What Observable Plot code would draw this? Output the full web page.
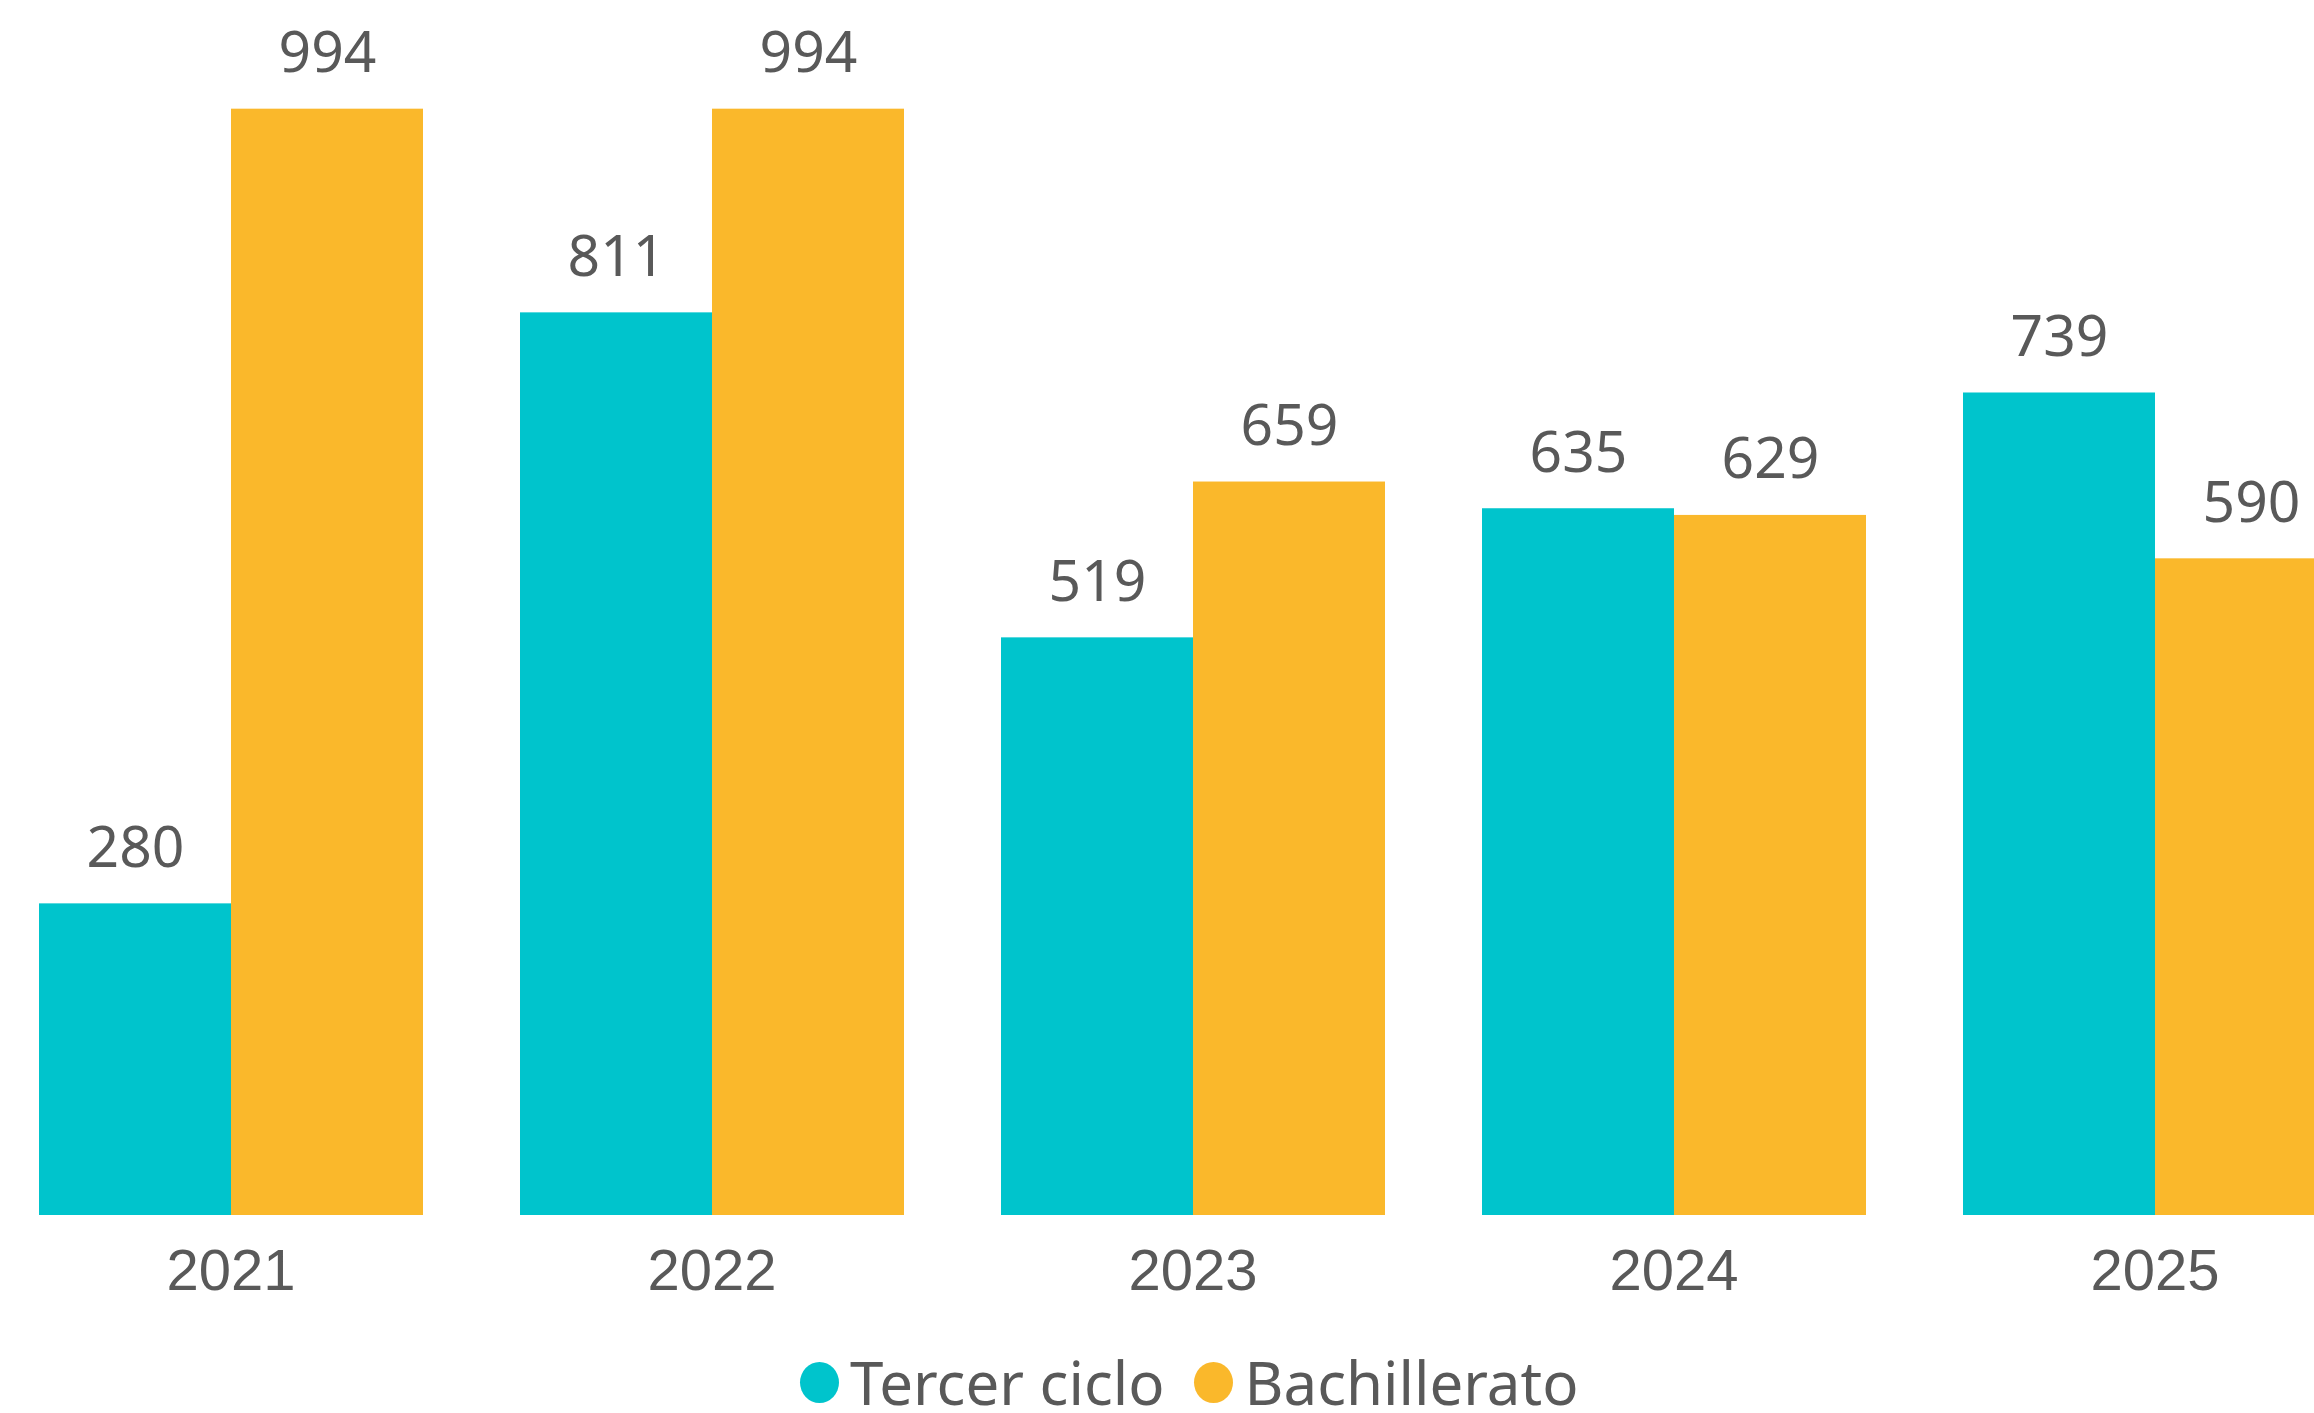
<!DOCTYPE html>
<html><head><meta charset="utf-8">
<script src="https://cdn.jsdelivr.net/npm/d3@7"></script>
<script src="https://cdn.jsdelivr.net/npm/@observablehq/plot@0.6"></script>
<style>
html,body{margin:0;padding:0;background:#fff;overflow:hidden;width:2314px;height:1413px}
#legend{display:flex;align-items:flex-start;height:93px;box-sizing:border-box;padding-top:32px;padding-left:800px;font-family:"Noto Sans";font-size:60px;line-height:1;color:#595959}
.item{display:flex;align-items:center;margin-right:30px;height:60px}
.dot{width:39px;height:41px;border-radius:50%;margin-right:11px}
</style></head><body><div id="chart"></div><div id="legend"></div>
<script>
const years = ["2021","2022","2023","2024","2025"];
const series = ["Tercer ciclo","Bachillerato"];
const tercerCiclo = [280,811,519,635,739];
const bachillerato = [994,994,659,629,590];
const colors = ["#00C4CC","#FAB82B"];

const data = years.flatMap((y,i)=>[
  {year:y, serie:series[0], value:tercerCiclo[i]},
  {year:y, serie:series[1], value:bachillerato[i]}
]);

const plot = Plot.plot({
  width:2314, height:1320, marginTop:102, marginBottom:105, marginLeft:0, marginRight:0,
  style:{color:"#595959", background:"#fff"},
  fx:{domain:years, range:[36,2348], paddingInner:0.2, paddingOuter:0},
  x:{domain:series, padding:0, axis:null},
  y:{domain:[0,1000], axis:null},
  color:{domain:series, range:colors},
  marks:[
    Plot.barY(data,{fx:"year", x:"serie", y:"value", fill:"serie"}),
    Plot.text(data,{fx:"year", x:"serie", y:"value", text:d=>String(d.value), dy:-37, lineAnchor:"bottom", fontSize:57, fontFamily:"Noto Sans", fill:"#595959"}),
    Plot.axisFx({anchor:"bottom", tickSize:0, tickPadding:33, fontSize:58, fontFamily:"Liberation Sans", label:null})
  ]
});
document.getElementById("chart").appendChild(plot);

const legend = document.getElementById("legend");
series.forEach((s,i)=>{
  const item = document.createElement("div"); item.className="item";
  const dot = document.createElement("span"); dot.className="dot"; dot.style.background=colors[i];
  const lab = document.createElement("span"); lab.textContent=s;
  item.appendChild(dot); item.appendChild(lab); legend.appendChild(item);
});
</script></body></html>
